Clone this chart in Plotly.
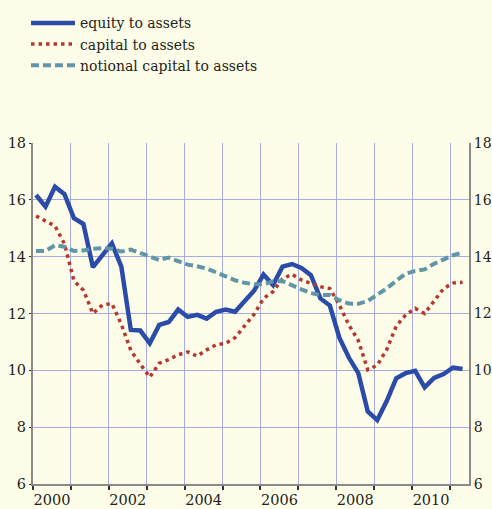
import plotly.graph_objects as go

# Quarterly observations, 2000Q1 .. 2011Q2
quarters = [f"{y}Q{q}" for y in range(2000, 2012) for q in range(1, 5)][:46]

equity_to_assets = [
    16.17, 15.76, 16.46, 16.20, 15.35, 15.15, 13.63, 14.05, 14.47, 13.65,
    11.42, 11.40, 10.95, 11.60, 11.70, 12.14, 11.88, 11.95, 11.82, 12.06,
    12.14, 12.06, 12.45, 12.80, 13.37, 13.00, 13.65, 13.74, 13.60, 13.35,
    12.53, 12.28, 11.15, 10.45, 9.90, 8.55, 8.25, 8.92, 9.72, 9.90,
    9.98, 9.40, 9.73, 9.87, 10.10, 10.05,
]
capital_to_assets = [
    15.43, 15.25, 15.08, 14.45, 13.15, 12.82, 12.00, 12.30, 12.35, 11.62,
    10.70, 10.22, 9.76, 10.25, 10.38, 10.55, 10.65, 10.50, 10.72, 10.90,
    10.95, 11.15, 11.57, 11.97, 12.53, 12.77, 13.22, 13.38, 13.18, 13.05,
    12.94, 12.88, 12.30, 11.60, 11.05, 10.02, 10.18, 10.73, 11.55, 11.95,
    12.18, 12.00, 12.45, 12.88, 13.07, 13.10,
]
notional_capital_to_assets = [
    14.20, 14.20, 14.40, 14.35, 14.20, 14.22, 14.28, 14.30, 14.28, 14.18,
    14.25, 14.12, 14.00, 13.88, 13.97, 13.85, 13.72, 13.66, 13.58, 13.45,
    13.30, 13.17, 13.08, 13.03, 13.03, 13.13, 13.14, 12.98, 12.85, 12.72,
    12.65, 12.65, 12.47, 12.35, 12.34, 12.44, 12.65, 12.88, 13.15, 13.40,
    13.50, 13.55, 13.75, 13.90, 14.05, 14.15,
]

year_labels = ["2000", "2002", "2004", "2006", "2008", "2010"]
y_ticks = [6, 8, 10, 12, 14, 16, 18]


def q_to_num(q):
    y, k = q.split("Q")
    return int(y) + (int(k) - 1) * 0.25 + 0.08


xs = [q_to_num(q) for q in quarters]

BG = "#FEFDE9"
GRID = "#A6ACE2"
AXIS = "#8A8A8A"
FONT = "DejaVu Serif, serif"
TXT = "#231F20"
TICK_SIZE = 14.5

fig = go.Figure()
fig.add_trace(go.Scatter(
    x=xs, y=equity_to_assets, mode="lines", name="equity to assets",
    line=dict(color="#2B4BA8", width=4.5),
))
fig.add_trace(go.Scatter(
    x=xs, y=capital_to_assets, mode="lines", name="capital to assets",
    line=dict(color="#B5382F", width=3.5, dash="3.5px,4px"),
))
fig.add_trace(go.Scatter(
    x=xs, y=notional_capital_to_assets, mode="lines", name="notional capital to assets",
    line=dict(color="#6196A9", width=4, dash="8px,4px"),
))
# right-hand axis companion (no data drawn)
fig.add_trace(go.Scatter(x=[None], y=[None], yaxis="y2", showlegend=False, hoverinfo="skip"))

label_vals = [int(s) + 0.5 for s in year_labels]
year_edges = list(range(2000, 2012))

fig.update_layout(
    width=492, height=509,
    margin=dict(l=33, r=23, t=143, b=25, autoexpand=False),
    paper_bgcolor=BG, plot_bgcolor=BG,
    font=dict(family=FONT, size=TICK_SIZE, color=TXT),
    showlegend=True,
    legend=dict(
        x=-0.016, y=1.398,
        xanchor="left", yanchor="top",
        bgcolor="rgba(0,0,0,0)", font=dict(family=FONT, size=14, color=TXT),
        itemwidth=44, tracegroupgap=0,
    ),
    xaxis=dict(
        range=[2000, 2011.5], tickmode="array", tickvals=label_vals, ticktext=year_labels,
        ticks="outside", ticklen=2, tickcolor="rgba(0,0,0,0)", tickangle=0,
        showgrid=False, zeroline=False,
        showline=True, linecolor=AXIS, linewidth=2,
        minor=dict(tickmode="array", tickvals=year_edges, ticks="outside", ticklen=4,
                   tickcolor="#333333", tickwidth=1.5,
                   showgrid=True, gridcolor=GRID, gridwidth=1.3),
        tickfont=dict(family=FONT, size=TICK_SIZE, color=TXT),
    ),
    yaxis=dict(
        range=[6, 18], tickmode="array", tickvals=y_ticks,
        ticks="outside", ticklen=2, tickcolor="#333333",
        showgrid=True, gridcolor=GRID, gridwidth=1.3, zeroline=False,
        showline=True, linecolor=AXIS, linewidth=2,
        tickfont=dict(family=FONT, size=TICK_SIZE, color=TXT),
    ),
    yaxis2=dict(
        range=[6, 18], tickmode="array", tickvals=y_ticks, overlaying="y", side="right",
        ticks="", showgrid=False, zeroline=False,
        showline=True, linecolor=AXIS, linewidth=2,
        tickfont=dict(family=FONT, size=14, color=TXT),
    ),
)

fig.write_html(
    "out.html",
    config={"displayModeBar": False},
    post_script="document.body.style.margin='0px';document.body.style.background='#FEFDE9';",
)
